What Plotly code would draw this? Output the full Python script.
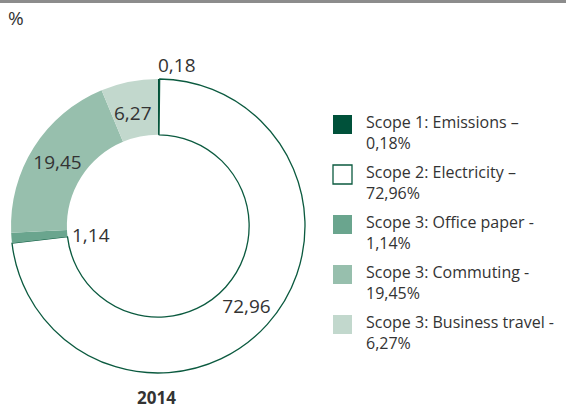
import plotly.graph_objects as go

W, H = 566, 410

categories = ["Scope 1: Emissions", "Scope 2: Electricity", "Scope 3: Office paper",
              "Scope 3: Commuting", "Scope 3: Business travel"]
values = [0.18, 72.96, 1.14, 19.45, 6.27]
dashes = ["–", "–", "-", "-", "-"]
year = "2014"
unit = "%"

colors = ["#00513a", "#ffffff", "#6aa58e", "#97bfad", "#c2d8cd"]
line_widths = [0, 1.3, 0, 0, 0]
DARK = "#0b5a3f"
TXT = "#333333"
FONT = "Open Sans"

def fmt(v):
    return f"{v:.2f}".replace(".", ",")

texts = [fmt(v) for v in values]
textpos = ["none", "inside", "none", "inside", "none"]

cx, cy, r = 158, 226, 147

def px(x):
    return x / W

def py(y):
    return 1 - y / H

fig = go.Figure()
fig.add_trace(go.Pie(
    labels=categories,
    values=values,
    sort=False,
    direction="clockwise",
    rotation=0,
    hole=0.62,
    marker=dict(colors=colors, line=dict(color=DARK, width=line_widths)),
    text=texts,
    textinfo="text",
    textposition=textpos,
    insidetextorientation="horizontal",
    textfont=dict(family=FONT, size=19, color=TXT),
    domain=dict(x=[px(cx - r), px(cx + r)], y=[py(cy + r), py(cy - r)]),
    showlegend=False,
    hoverinfo="label+value",
))

annotations = [
    dict(x=px(6), y=py(18), text=unit, xanchor="left", yanchor="middle",
         font=dict(family=FONT, size=19, color=TXT)),
    dict(x=px(cx - 2), y=py(65), text=texts[0], xanchor="left", yanchor="middle",
         font=dict(family=FONT, size=19, color=TXT)),
    dict(x=px(91), y=py(235), text=texts[2], xanchor="center", yanchor="middle",
         font=dict(family=FONT, size=19, color=TXT)),
    dict(x=px(133), y=py(113), text=texts[4], xanchor="center", yanchor="middle",
         font=dict(family=FONT, size=19, color=TXT)),
    dict(x=px(cx - 2), y=py(397.5), text=f"<b>{year}</b>", xanchor="center", yanchor="middle",
         font=dict(family=FONT, size=17, color=TXT)),
]

shapes = [dict(type="line", xref="paper", yref="paper", x0=0, x1=1, y0=py(1.5), y1=py(1.5),
               line=dict(color="#8c8c8c", width=3))]

for i, (cat, v, d) in enumerate(zip(categories, values, dashes)):
    top = 115 + 50 * i
    shapes.append(dict(type="rect", xref="paper", yref="paper",
                       x0=px(333), x1=px(352), y0=py(top + 19), y1=py(top),
                       fillcolor=colors[i],
                       line=dict(color=DARK if i == 1 else colors[i], width=1.3 if i == 1 else 0)))
    annotations.append(dict(x=px(364), y=py(top - 6), xanchor="left", yanchor="top", align="left",
                            text=f"{cat} {d}<br>{fmt(v)}%",
                            font=dict(family=FONT, size=16, color=TXT)))

for a in annotations:
    a.setdefault("xref", "paper")
    a.setdefault("yref", "paper")
    a.setdefault("showarrow", False)

fig.update_layout(
    width=W, height=H,
    margin=dict(l=0, r=0, t=0, b=0),
    paper_bgcolor="white",
    plot_bgcolor="white",
    annotations=annotations,
    shapes=shapes,
    font=dict(family=FONT, color=TXT),
)

fig.write_html("out.html", config={"displayModeBar": False},
               post_script="document.body.style.margin='0px';document.body.style.overflow='hidden';")
